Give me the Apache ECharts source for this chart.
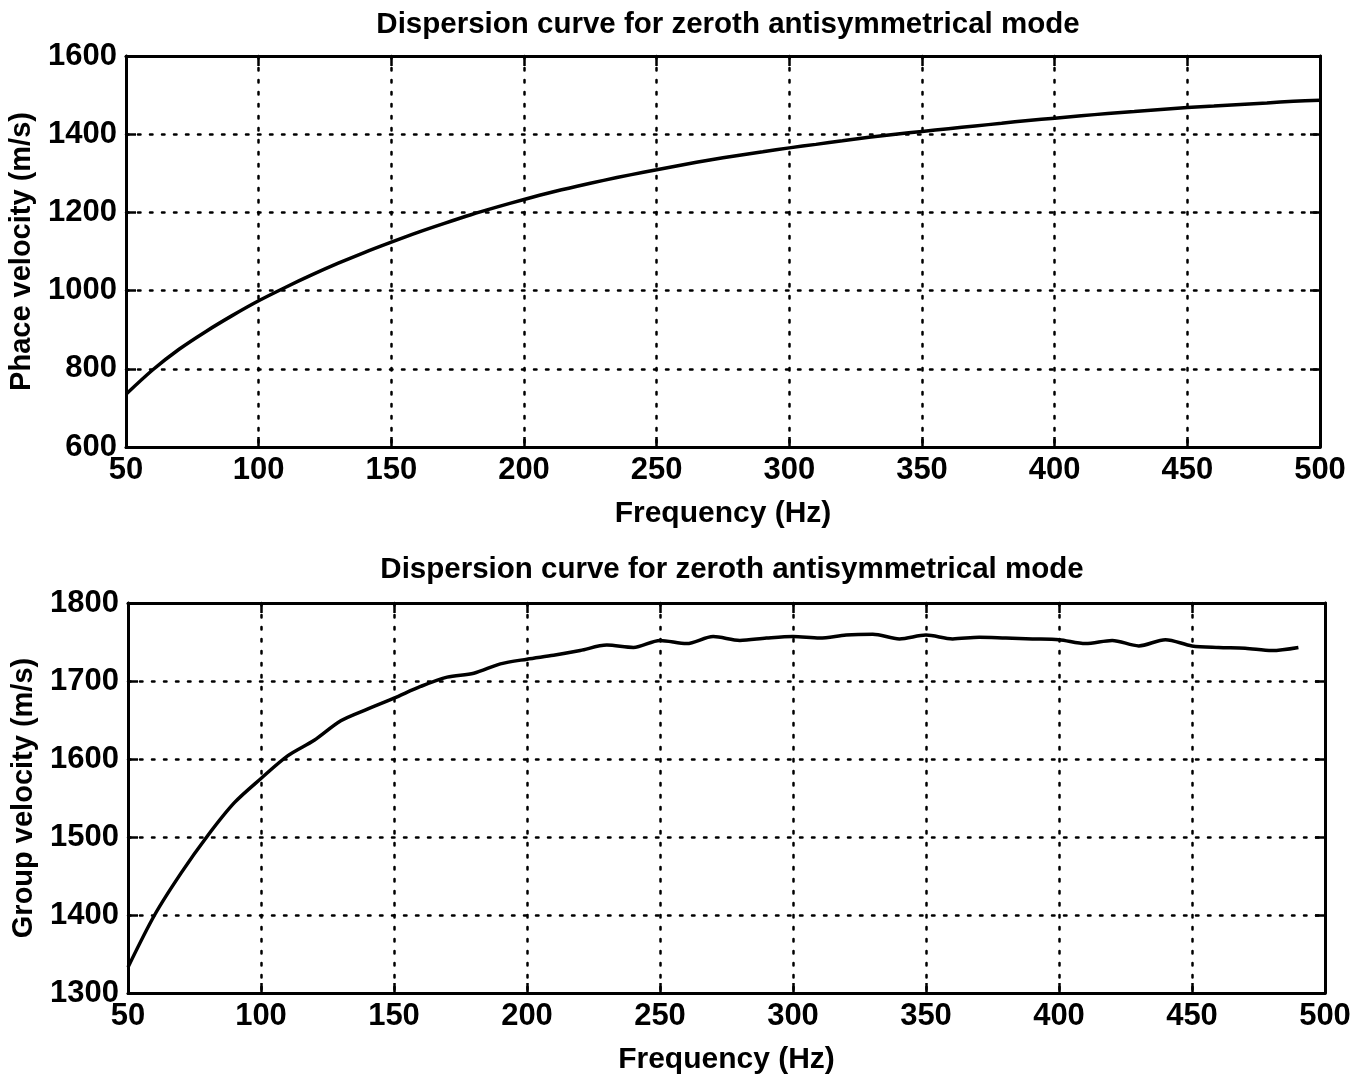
<!DOCTYPE html>
<html>
<head>
<meta charset="utf-8">
<title>Dispersion curves</title>
<script src="https://cdn.jsdelivr.net/npm/echarts@6/dist/echarts.min.js"></script>
<style>
  html, body { margin: 0; padding: 0; background: #fff; }
  #chart { width: 1366px; height: 1076px; }
</style>
</head>
<body>
<div id="chart"></div>
<script>
// Frequency samples (Hz)
const phaseFreq = [50,60,70,80,90,100,110,120,130,140,150,160,170,180,190,200,210,220,230,240,250,260,270,280,290,300,310,320,330,340,350,360,370,380,390,400,410,420,430,440,450,460,470,480,490,500];
// Phase velocity of the A0 mode (m/s)
const phaseVel = [735,797,850,895,936,974,1008,1040,1070,1098,1124,1149,1172,1194,1214,1233,1251,1267,1282,1296,1309,1322,1334,1345,1355,1365,1374,1383,1392,1400,1407,1414,1421,1428,1435,1441,1447,1453,1458,1463,1468,1472,1476,1480,1484,1487];

const groupFreq = [50,60,70,80,90,100,110,120,130,140,150,160,170,180,190,200,210,220,230,240,250,260,270,280,290,300,310,320,330,340,350,360,370,380,390,400,410,420,430,440,450,460,470,480,490];
// Group velocity of the A0 mode (m/s)
const groupVel = [1333,1400,1454,1502,1544,1575,1604,1624,1649,1664,1678,1693,1705,1710,1722,1728,1733,1739,1746,1743,1752,1748,1757,1752,1755,1757,1755,1759,1760,1754,1759,1754,1756,1755,1754,1753,1748,1752,1745,1753,1745,1743,1742,1739,1743];

const titleText = 'Dispersion curve for zeroth antisymmetrical mode';
const xName = 'Frequency (Hz)';
const yNames = ['Phace velocity (m/s)', 'Group velocity (m/s)'];

const FONT = 'Liberation Sans, Arial, Helvetica, sans-serif';
const INK = '#000';

const chart = echarts.init(document.getElementById('chart'), null, { renderer: 'canvas' });

const dotted = { color: INK, width: 2.5, type: [2.5, 9.5], cap: 'round' };
const frame = { show: true, lineStyle: { color: INK, width: 3 } };
const tickIn = { show: true, inside: true, length: 10, lineStyle: { color: INK, width: 2.5 } };
const labelStyle = {
  color: INK, fontFamily: FONT, fontWeight: 'bold', fontSize: 31,
  formatter: v => String(v)
};

function xAx(gridIndex, main) {
  return {
    type: 'value', gridIndex, min: 50, max: 500, interval: 50,
    position: main ? 'bottom' : 'top',
    axisLine: frame, axisTick: tickIn,
    axisLabel: main ? Object.assign({ margin: 8 }, labelStyle) : { show: false },
    splitLine: main ? { show: true, lineStyle: dotted } : { show: false },
    name: main ? xName : '',
    nameLocation: 'middle', nameGap: 52,
    nameTextStyle: { color: INK, fontFamily: FONT, fontWeight: 'bold', fontSize: 30 }
  };
}

function yAx(gridIndex, main, min, max, interval, name) {
  return {
    type: 'value', gridIndex, min, max, interval,
    position: main ? 'left' : 'right',
    axisLine: frame, axisTick: tickIn,
    axisLabel: main ? Object.assign({ margin: 9 }, labelStyle) : { show: false },
    splitLine: main ? { show: true, lineStyle: dotted } : { show: false },
    name: main ? name : '',
    nameLocation: 'middle', nameGap: 90,
    nameTextStyle: { color: INK, fontFamily: FONT, fontWeight: 'bold', fontSize: 29 }
  };
}

const option = {
  backgroundColor: '#fff',
  animation: false,
  title: [
    { text: titleText, left: 723, top: 5, textAlign: 'center',
      textStyle: { color: INK, fontFamily: FONT, fontWeight: 'bold', fontSize: 29.5 } },
    { text: titleText, left: 727, top: 550, textAlign: 'center',
      textStyle: { color: INK, fontFamily: FONT, fontWeight: 'bold', fontSize: 29.5 } }
  ],
  grid: [
    { left: 126, top: 56, width: 1194, height: 391, containLabel: false, outerBoundsMode: 'none' },
    { left: 128, top: 603, width: 1197, height: 390, containLabel: false, outerBoundsMode: 'none' }
  ],
  xAxis: [xAx(0, true), xAx(0, false), xAx(1, true), xAx(1, false)],
  yAxis: [
    yAx(0, true, 600, 1600, 200, yNames[0]),
    yAx(0, false, 600, 1600, 200, ''),
    yAx(1, true, 1300, 1800, 100, yNames[1]),
    yAx(1, false, 1300, 1800, 100, '')
  ],
  series: [
    {
      type: 'line', xAxisIndex: 0, yAxisIndex: 0, showSymbol: false, smooth: 0.3,
      lineStyle: { color: INK, width: 3.5 },
      data: phaseFreq.map((f, i) => [f, phaseVel[i]])
    },
    {
      type: 'line', xAxisIndex: 2, yAxisIndex: 2, showSymbol: false, smooth: 0.3,
      lineStyle: { color: INK, width: 3.5 },
      data: groupFreq.map((f, i) => [f, groupVel[i]])
    }
  ]
};

chart.setOption(option);
</script>
</body>
</html>
